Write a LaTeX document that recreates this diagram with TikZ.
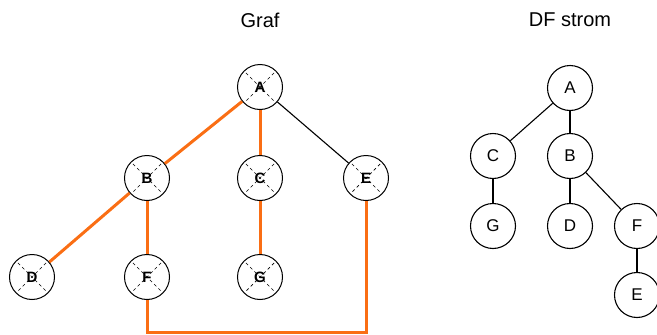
\documentclass[tikz,border=0pt]{standalone}
\usepackage{fontspec}
\setmainfont{Liberation Sans}
\usepackage{tikz}
\usetikzlibrary{calc}
\definecolor{df_orange}{RGB}{250, 110, 20}
\tikzstyle{gn}=[circle,draw=black,fill=white,line width=1pt,inner sep=0pt,
  minimum size=45pt,font=\fontsize{15}{15}\selectfont\bfseries,
  path picture={\draw[line width=0.7pt,dash pattern=on 3pt off 3pt]
    (path picture bounding box.north west) -- (path picture bounding box.south east)
    (path picture bounding box.north east) -- (path picture bounding box.south west);}]
\tikzstyle{tn}=[circle,draw=black,fill=white,line width=1.1pt,inner sep=0pt,
  minimum size=45pt,font=\fontsize{17}{17}\selectfont]
\tikzstyle{ttl}=[font=\fontsize{20}{20}\selectfont]
\tikzstyle{tree}=[draw=df_orange,line width=3pt]
\tikzstyle{back}=[draw=black,line width=1.1pt]
\tikzstyle{thick back}=[draw=black,line width=1.8pt]
\tikzstyle{none}=[]

\begin{document}
\begin{tikzpicture}[x=1pt,y=-1pt]
            \useasboundingbox (0, 0) rectangle (657, 335);
            \node [style=ttl] (0) at (260, 20) {Graf};
            \node [style=ttl] (1) at (570, 20) {DF strom};
            % graph
            \node [style=gn] (2) at (260, 87) {A};
            \node [style=gn] (3) at (147, 178) {B};
            \node [style=gn] (4) at (260, 178) {C};
            \node [style=gn] (5) at (366, 178) {E};
            \node [style=gn] (6) at (32, 277) {D};
            \node [style=gn] (7) at (147, 277) {F};
            \node [style=gn] (8) at (260, 277) {G};
            \coordinate (9) at (147, 332);
            \coordinate (10) at (366, 332);
            \draw [style=tree] (2) to (3);
            \draw [style=tree] (2) to (4);
            \draw [style=back] (2) to (5);
            \draw [style=tree] (3) to (6);
            \draw [style=tree] (3) to (7);
            \draw [style=tree] (4) to (8);
            \draw [style=tree] (7) -- (9) -- (10) -- (5);
            % DF tree
            \node [style=tn] (11) at (570, 88) {A};
            \node [style=tn] (12) at (493, 156) {C};
            \node [style=tn] (13) at (570, 156) {B};
            \node [style=tn] (14) at (493, 226) {G};
            \node [style=tn] (15) at (570, 226) {D};
            \node [style=tn] (16) at (637, 226) {F};
            \node [style=tn] (17) at (637, 295) {E};
            \draw [style=back] (11) to (12);
            \draw [style=thick back] (11) to (13);
            \draw [style=thick back] (12) to (14);
            \draw [style=thick back] (13) to (15);
            \draw [style=back] (13) to (16);
            \draw [style=back] (16) to (17);
    \end{tikzpicture}
\end{document}
